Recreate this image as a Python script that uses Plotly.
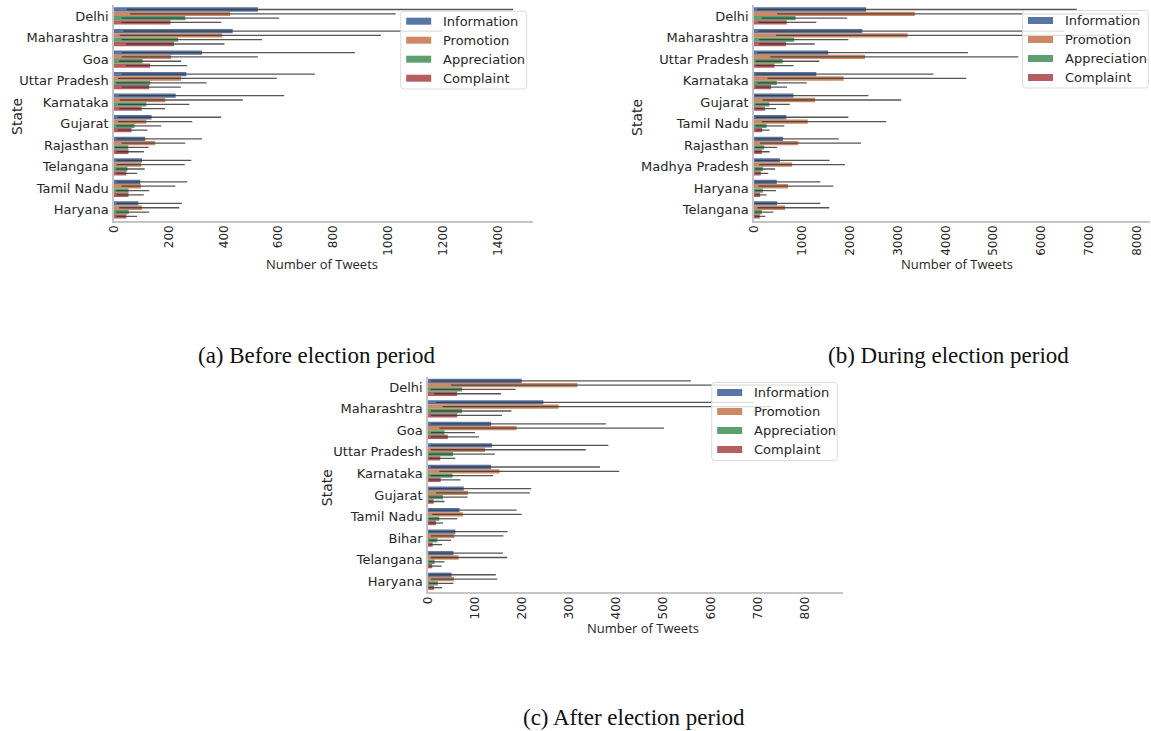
import plotly.graph_objects as go

# ---------------------------------------------------------------- data
SERIES = ["Information", "Promotion", "Appreciation", "Complaint"]
COLORS = ["#5975a4", "#cc8963", "#5f9e6e", "#b55d60"]

# (a) before election period
STATES_BEFORE = ["Delhi", "Maharashtra", "Goa", "Uttar Pradesh", "Karnataka",
                 "Gujarat", "Rajasthan", "Telangana", "Tamil Nadu", "Haryana"]
BEFORE_INFO = [525, 433, 321, 264, 225, 137, 114, 102, 96, 89]
BEFORE_INFO_LO = [47, 34, 28, 28, 19, 13, 9, 9, 9, 9]
BEFORE_INFO_HI = [1456, 1198, 879, 733, 621, 391, 321, 282, 267, 248]
BEFORE_PROMO = [424, 395, 208, 245, 187, 118, 150, 99, 98, 102]
BEFORE_PROMO_LO = [59, 21, 28, 15, 21, 15, 28, 9, 28, 19]
BEFORE_PROMO_HI = [1028, 974, 525, 594, 470, 286, 260, 258, 224, 238]
BEFORE_APPR = [260, 234, 104, 132, 118, 75, 52, 49, 53, 54]
BEFORE_APPR_LO = [28, 28, 19, 9, 15, 9, 3, 9, 9, 9]
BEFORE_APPR_HI = [603, 540, 245, 338, 275, 172, 126, 112, 128, 128]
BEFORE_COMPL = [206, 219, 132, 128, 101, 64, 53, 45, 53, 45]
BEFORE_COMPL_LO = [28, 44, 44, 28, 19, 13, 9, 9, 9, 9]
BEFORE_COMPL_HI = [392, 403, 267, 244, 186, 122, 109, 84, 109, 84]

# (b) during election period
STATES_DURING = ["Delhi", "Maharashtra", "Uttar Pradesh", "Karnataka", "Gujarat",
                 "Tamil Nadu", "Rajasthan", "Madhya Pradesh", "Haryana", "Telangana"]
DURING_INFO = [2340, 2261, 1550, 1301, 825, 675, 604, 540, 476, 483]
DURING_INFO_LO = [71, 92, 71, 36, 21, 36, 21, 21, 21, 21]
DURING_INFO_HI = [6740, 6470, 4465, 3747, 2389, 1970, 1770, 1578, 1386, 1386]
DURING_PROMO = [3356, 3207, 2318, 1870, 1273, 1123, 924, 796, 711, 647]
DURING_PROMO_LO = [483, 462, 341, 284, 178, 164, 128, 107, 92, 71]
DURING_PROMO_HI = [8034, 7750, 5517, 4430, 3072, 2759, 2233, 1898, 1657, 1571]
DURING_APPR = [867, 839, 597, 476, 320, 263, 213, 185, 185, 164]
DURING_APPR_LO = [164, 107, 36, 71, 36, 36, 21, 21, 21, 21]
DURING_APPR_HI = [1948, 1970, 1365, 1102, 747, 633, 483, 441, 462, 405]
DURING_COMPL = [683, 668, 427, 356, 228, 171, 164, 142, 128, 121]
DURING_COMPL_LO = [92, 107, 36, 36, 36, 36, 21, 21, 21, 21]
DURING_COMPL_HI = [1301, 1266, 825, 690, 462, 327, 327, 299, 263, 235]

# (c) after election period
STATES_AFTER = ["Delhi", "Maharashtra", "Goa", "Uttar Pradesh", "Karnataka",
                "Gujarat", "Tamil Nadu", "Bihar", "Telangana", "Haryana"]
AFTER_INFO = [199, 245, 134, 136, 134, 76, 67, 58, 54, 50]
AFTER_INFO_LO = [6, 17, 6, 6, 6, 2, 2, 2, 2, 2]
AFTER_INFO_HI = [558, 690, 378, 383, 365, 219, 188, 169, 159, 144]
AFTER_PROMO = [317, 277, 188, 121, 152, 85, 74, 56, 65, 55]
AFTER_PROMO_LO = [49, 31, 24, 6, 24, 17, 9, 6, 6, 6]
AFTER_PROMO_HI = [835, 729, 501, 335, 406, 216, 199, 160, 168, 147]
AFTER_APPR = [72, 72, 35, 53, 52, 32, 24, 20, 14, 21]
AFTER_APPR_LO = [6, 6, 6, 2, 6, 2, 2, 2, 2, 2]
AFTER_APPR_HI = [186, 177, 100, 142, 138, 84, 62, 49, 35, 54]
AFTER_COMPL = [62, 62, 42, 26, 27, 12, 17, 10, 9, 13]
AFTER_COMPL_LO = [13, 6, 6, 2, 2, 2, 2, 2, 2, 2]
AFTER_COMPL_HI = [155, 157, 108, 58, 69, 35, 32, 30, 29, 30]

TICKS_BEFORE = [0, 200, 400, 600, 800, 1000, 1200, 1400]
TICKS_DURING = [0, 1000, 2000, 3000, 4000, 5000, 6000, 7000, 8000]
TICKS_AFTER = [0, 100, 200, 300, 400, 500, 600, 700, 800]

CAPTIONS = ["(a) Before election period", "(b) During election period",
            "(c) After election period"]

# ---------------------------------------------------------------- layout helpers
W, H = 1151, 731


def fx(p):
    return p / W


def fy(p):
    return 1 - p / H


TEXT = "#262626"
SANS = "DejaVu Sans"
SPINE = "#c4c4c4"

panels = [
    dict(states=STATES_BEFORE, ticks=TICKS_BEFORE, xmax=1529,
         left=114, right=533, top=5.2, bottom=220.7,
         series=[(BEFORE_INFO, BEFORE_INFO_LO, BEFORE_INFO_HI),
                 (BEFORE_PROMO, BEFORE_PROMO_LO, BEFORE_PROMO_HI),
                 (BEFORE_APPR, BEFORE_APPR_LO, BEFORE_APPR_HI),
                 (BEFORE_COMPL, BEFORE_COMPL_LO, BEFORE_COMPL_HI)],
         legend=(400.7, 526.7, 11.2, 89.0), title_x=322, title_y=264,
         state_x=17, caption=(316.5, 355)),
    dict(states=STATES_DURING, ticks=TICKS_DURING, xmax=8267,
         left=754, right=1150, top=5.2, bottom=220.7,
         series=[(DURING_INFO, DURING_INFO_LO, DURING_INFO_HI),
                 (DURING_PROMO, DURING_PROMO_LO, DURING_PROMO_HI),
                 (DURING_APPR, DURING_APPR_LO, DURING_APPR_HI),
                 (DURING_COMPL, DURING_COMPL_LO, DURING_COMPL_HI)],
         legend=(1022.5, 1148.3, 10.5, 88.0), title_x=957, title_y=264,
         state_x=637, caption=(948, 355)),
    dict(states=STATES_AFTER, ticks=TICKS_AFTER, xmax=881,
         left=428, right=843, top=376.5, bottom=592,
         series=[(AFTER_INFO, AFTER_INFO_LO, AFTER_INFO_HI),
                 (AFTER_PROMO, AFTER_PROMO_LO, AFTER_PROMO_HI),
                 (AFTER_APPR, AFTER_APPR_LO, AFTER_APPR_HI),
                 (AFTER_COMPL, AFTER_COMPL_LO, AFTER_COMPL_HI)],
         legend=(711.7, 837.3, 382.5, 460.5), title_x=643, title_y=628,
         state_x=327, caption=(634, 717)),
]

fig = go.Figure()
shapes, annotations = [], []
layout_axes = {}


def rounded_box(x0, x1, y0, y1, r=3):
    rx, ry = r / W, r / H
    X0, X1, Y0, Y1 = fx(x0), fx(x1), fy(y0), fy(y1)
    return (f"M {X0 + rx},{Y0} L {X1 - rx},{Y0} Q {X1},{Y0} {X1},{Y0 - ry} "
            f"L {X1},{Y1 + ry} Q {X1},{Y1} {X1 - rx},{Y1} "
            f"L {X0 + rx},{Y1} Q {X0},{Y1} {X0},{Y1 + ry} "
            f"L {X0},{Y0 - ry} Q {X0},{Y0} {X0 + rx},{Y0} Z")


for i, p in enumerate(panels, start=1):
    suffix = "" if i == 1 else str(i)
    for name, color, (mean, lo, hi) in zip(SERIES, COLORS, p["series"]):
        fig.add_trace(go.Bar(
            y=p["states"], x=mean, name=name, orientation="h",
            marker=dict(color=color, line=dict(width=0)),
            error_x=dict(type="data", symmetric=False,
                         array=[h - m for m, h in zip(mean, hi)],
                         arrayminus=[m - l for m, l in zip(mean, lo)],
                         width=0, thickness=1.3, color="rgba(55,55,55,0.85)"),
            xaxis="x" + suffix, yaxis="y" + suffix, showlegend=False,
        ))

    layout_axes["xaxis" + suffix] = dict(
        domain=[fx(p["left"]), fx(p["right"])], anchor="y" + suffix,
        range=[0, p["xmax"]], tickvals=p["ticks"], tickangle=-90,
        showgrid=False, zeroline=False, showline=True, linecolor=SPINE,
        linewidth=1.5, ticks="", ticklabelstandoff=-2, automargin=False,
        tickfont=dict(family=SANS, size=12, color=TEXT),
    )
    layout_axes["yaxis" + suffix] = dict(
        domain=[fy(p["bottom"]), fy(p["top"])], anchor="x" + suffix,
        type="category", categoryorder="array", categoryarray=p["states"],
        range=[9.5, -0.5], showgrid=False, zeroline=False, showline=True,
        linecolor=SPINE, linewidth=1.5, ticks="", ticklabelstandoff=1,
        automargin=False, tickfont=dict(family=SANS, size=13, color=TEXT),
    )

    # axis titles
    annotations.append(dict(
        x=fx(p["title_x"]), y=fy(p["title_y"]), xref="paper", yref="paper",
        text="Number of Tweets", showarrow=False, xanchor="center", yanchor="middle",
        font=dict(family="Open Sans", size=13, color=TEXT)))
    annotations.append(dict(
        x=fx(p["state_x"]), y=fy((p["top"] + p["bottom"]) / 2 + 4), xref="paper",
        yref="paper", text="State", showarrow=False, textangle=-90,
        xanchor="center", yanchor="middle",
        font=dict(family=SANS, size=14, color=TEXT)))

    # legend box
    lx0, lx1, ly0, ly1 = p["legend"]
    shapes.append(dict(type="path", path=rounded_box(lx0, lx1, ly0, ly1),
                       xref="paper", yref="paper", layer="above",
                       fillcolor="rgba(255,255,255,0.8)",
                       line=dict(color="rgba(215,215,215,0.9)", width=1)))
    for k, (name, color) in enumerate(zip(SERIES, COLORS)):
        cy = ly0 + 10 + k * 19.0
        shapes.append(dict(type="rect", xref="paper", yref="paper", layer="above",
                           x0=fx(lx0 + 5.5), x1=fx(lx0 + 30.5),
                           y0=fy(cy - 3.5), y1=fy(cy + 3.5),
                           fillcolor=color, line=dict(width=0)))
        annotations.append(dict(
            x=fx(lx0 + 40.5), y=fy(cy), xref="paper", yref="paper", text=name,
            showarrow=False, xanchor="left", yanchor="middle",
            font=dict(family=SANS, size=13, color=TEXT)))

    # caption
    cx, cyc = p["caption"]
    annotations.append(dict(
        x=fx(cx), y=fy(cyc), xref="paper", yref="paper", text=CAPTIONS[i - 1],
        showarrow=False, xanchor="center", yanchor="middle",
        font=dict(family="Liberation Serif", size=23, color="#111111")))

fig.update_layout(
    template="none",
    width=W, height=H, margin=dict(l=0, r=0, t=0, b=0, pad=0),
    paper_bgcolor="white", plot_bgcolor="white",
    barmode="group", bargap=0.2, bargroupgap=0,
    shapes=shapes, annotations=annotations, showlegend=False,
    **layout_axes,
)

fig.write_html("out.html")
